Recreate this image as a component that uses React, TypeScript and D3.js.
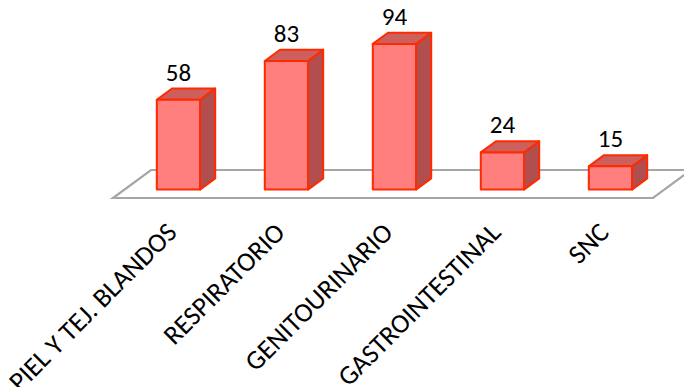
import React from "react";
import * as d3 from "d3";

const categories = [
  "PIEL Y TEJ. BLANDOS",
  "RESPIRATORIO",
  "GENITOURINARIO",
  "GASTROINTESTINAL",
  "SNC",
];
const values = [58, 83, 94, 24, 15];

const width = 684;
const height = 387;

// floor front edge and depth vector of the 3D projection
const floorLeft = 113;
const floorRight = 653;
const floorY = 198;
const depthX = 38;
const depthY = -28;
const barFrontDepth = 0.3;
const barBackDepth = 0.7;

const fontFamily = "Calibri, Carlito, Lato, 'Open Sans', sans-serif";

const App: React.FC = () => {
  const x = d3
    .scaleBand<string>()
    .domain(categories)
    .range([floorLeft, floorRight])
    .paddingInner(0.6)
    .paddingOuter(0.3);

  // bars rest on the plane at the front-depth of the bar
  const baseY = floorY + depthY * barFrontDepth;
  const y = d3.scaleLinear().domain([0, 100]).range([baseY, baseY - 155]);

  const shiftX = depthX * barFrontDepth;
  const dX = depthX * (barBackDepth - barFrontDepth);
  const dY = depthY * (barBackDepth - barFrontDepth);

  const floorPts: [number, number][] = [
    [floorLeft, floorY],
    [floorRight, floorY],
    [floorRight + depthX, floorY + depthY],
    [floorLeft + depthX, floorY + depthY],
  ];
  const line = d3.line();

  return (
    <svg
      width={width}
      height={height}
      viewBox={`0 0 ${width} ${height}`}
      style={{ position: "absolute", left: 0, top: 0, background: "#fff" }}
    >
      <path
        d={line(floorPts) + "Z"}
        fill="none"
        stroke="#A6A6A6"
        strokeWidth={2.2}
      />
      {categories.map((c, i) => {
        const x0 = (x(c) ?? 0) + shiftX;
        const x1 = x0 + x.bandwidth();
        const yb = y(0);
        const yt = y(values[i]);
        const side = line([
          [x1, yb],
          [x1 + dX, yb + dY],
          [x1 + dX, yt + dY],
          [x1, yt],
        ]);
        const top = line([
          [x0, yt],
          [x0 + dX, yt + dY],
          [x1 + dX, yt + dY],
          [x1, yt],
        ]);
        return (
          <g key={c} strokeLinejoin="round">
            <path d={side + "Z"} fill="#B04F4D" stroke="#FF2A00" strokeWidth={2} />
            <path d={top + "Z"} fill="#CD5F5D" stroke="#FF2A00" strokeWidth={2} />
            <rect
              x={x0}
              y={yt}
              width={x1 - x0}
              height={yb - yt}
              fill="#FF7F7E"
              stroke="#FF2A00"
              strokeWidth={2}
            />
            <text
              x={(x0 + x1) / 2}
              y={yt + dY - 8}
              textAnchor="middle"
              fontFamily={fontFamily}
              fontSize={25}
              fill="#000"
            >
              {values[i]}
            </text>
          </g>
        );
      })}
      {categories.map((c) => {
        const cx = (x(c) ?? 0) + shiftX + x.bandwidth() / 2;
        return (
          <text
            key={"l" + c}
            transform={`translate(${cx},234) rotate(-45)`}
            textAnchor="end"
            fontFamily={fontFamily}
            fontSize={27}
            fill="#000"
          >
            {c}
          </text>
        );
      })}
    </svg>
  );
};

export default App;
